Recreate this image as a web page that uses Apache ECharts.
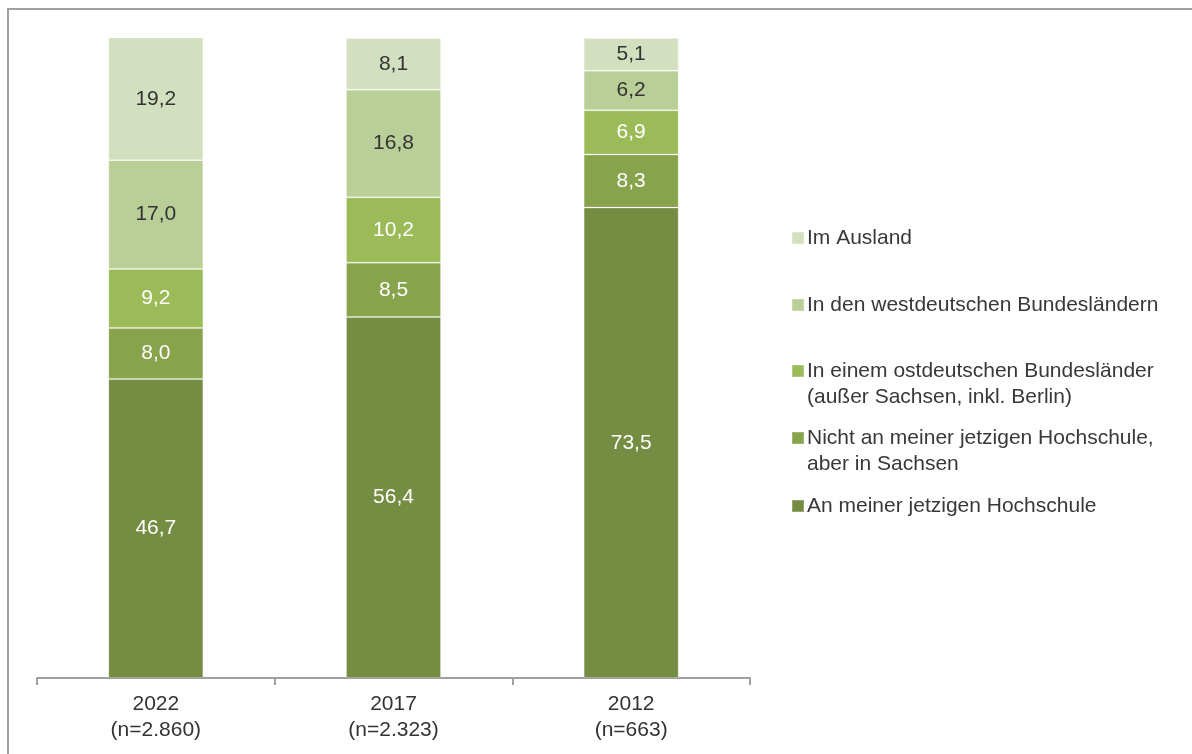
<!DOCTYPE html>
<html>
<head>
<meta charset="utf-8">
<script src="https://cdn.jsdelivr.net/npm/echarts@6/dist/echarts.min.js"></script>
<style>
html,body{margin:0;padding:0;background:#fff;}
#chart{width:1192px;height:754px;}
</style>
</head>
<body>
<div id="chart"></div>
<script>
var categories = ['2022', '2017', '2012'];
var sampleSizes = ['(n=2.860)', '(n=2.323)', '(n=663)'];
var seriesNames = [
  'An meiner jetzigen Hochschule',
  'Nicht an meiner jetzigen Hochschule,',
  'In einem ostdeutschen Bundesländer',
  'In den westdeutschen Bundesländern',
  'Im Ausland'
];
var nameSecondLines = ['', 'aber in Sachsen', '(außer Sachsen, inkl. Berlin)', '', ''];
var anMeiner = [46.7, 56.4, 73.5];
var nichtAnMeiner = [8.0, 8.5, 8.3];
var ostdeutsch = [9.2, 10.2, 6.9];
var westdeutsch = [17.0, 16.8, 6.2];
var ausland = [19.2, 8.1, 5.1];

var values = [anMeiner, nichtAnMeiner, ostdeutsch, westdeutsch, ausland];
var colors = ['#758d42', '#87a34c', '#9bbb59', '#b9cf97', '#d3e0c0'];
var labelColors = ['#ffffff', '#ffffff', '#ffffff', '#333333', '#333333'];
var FONT = 'Liberation Sans';
var FS = 21;

var series = seriesNames.map(function (name, i) {
  return {
    name: name,
    type: 'bar',
    stack: 'total',
    barWidth: 95,
    data: values[i],
    itemStyle: { color: colors[i], borderColor: 'rgba(255,255,255,0.22)', borderWidth: 1 },
    label: {
      show: true,
      position: 'inside',
      color: labelColors[i],
      fontFamily: FONT,
      fontSize: FS,
      formatter: function (p) { return p.value.toFixed(1).replace('.', ','); }
    }
  };
});

// legend items: top to bottom order, centers of first line
var legendOrder = [4, 3, 2, 1, 0];
var legendCenters = [238, 305, 371, 438, 506];
var legends = legendOrder.map(function (si, k) {
  return {
    data: [seriesNames[si]],
    left: 791,
    top: legendCenters[k] - 13,
    orient: 'vertical',
    itemWidth: 12,
    itemHeight: 12,
    itemGap: 0,
    padding: 0,
    icon: 'rect',
    selectedMode: false,
    textStyle: { fontFamily: FONT, fontSize: FS, color: '#383838', lineHeight: 26, padding: [0, 0, 0, -2] }
  };
});

var graphics = [
  { type: 'rect', silent: true, shape: { x: 8, y: 9, width: 1400, height: 1000 },
    style: { fill: 'none', stroke: '#a0a0a0', lineWidth: 2 } }
];
legendOrder.forEach(function (si, k) {
  if (nameSecondLines[si]) {
    graphics.push({
      type: 'text', left: 807, top: legendCenters[k] + 26 - 13,
      style: { text: nameSecondLines[si], fontFamily: FONT, fontSize: FS, fill: '#383838', lineHeight: 26 }
    });
  }
});

var chart = echarts.init(document.getElementById('chart'), null, { renderer: 'canvas' });
chart.setOption({
  animation: false,
  backgroundColor: '#ffffff',
  grid: { left: 37, right: 442, top: 38, bottom: 76, containLabel: false },
  xAxis: {
    type: 'category',
    data: categories,
    axisLine: { lineStyle: { color: '#a0a0a0', width: 2 } },
    axisTick: { show: true, length: 7, lineStyle: { color: '#a0a0a0', width: 2 } },
    axisLabel: {
      margin: 13,
      fontFamily: FONT, fontSize: FS, color: '#333333', lineHeight: 26,
      formatter: function (v, idx) { return v + '\n' + sampleSizes[idx]; }
    }
  },
  yAxis: {
    type: 'value', min: 0, max: 100, show: false, splitLine: { show: false }
  },
  legend: legends,
  graphic: graphics,
  series: series
});
</script>
</body>
</html>
